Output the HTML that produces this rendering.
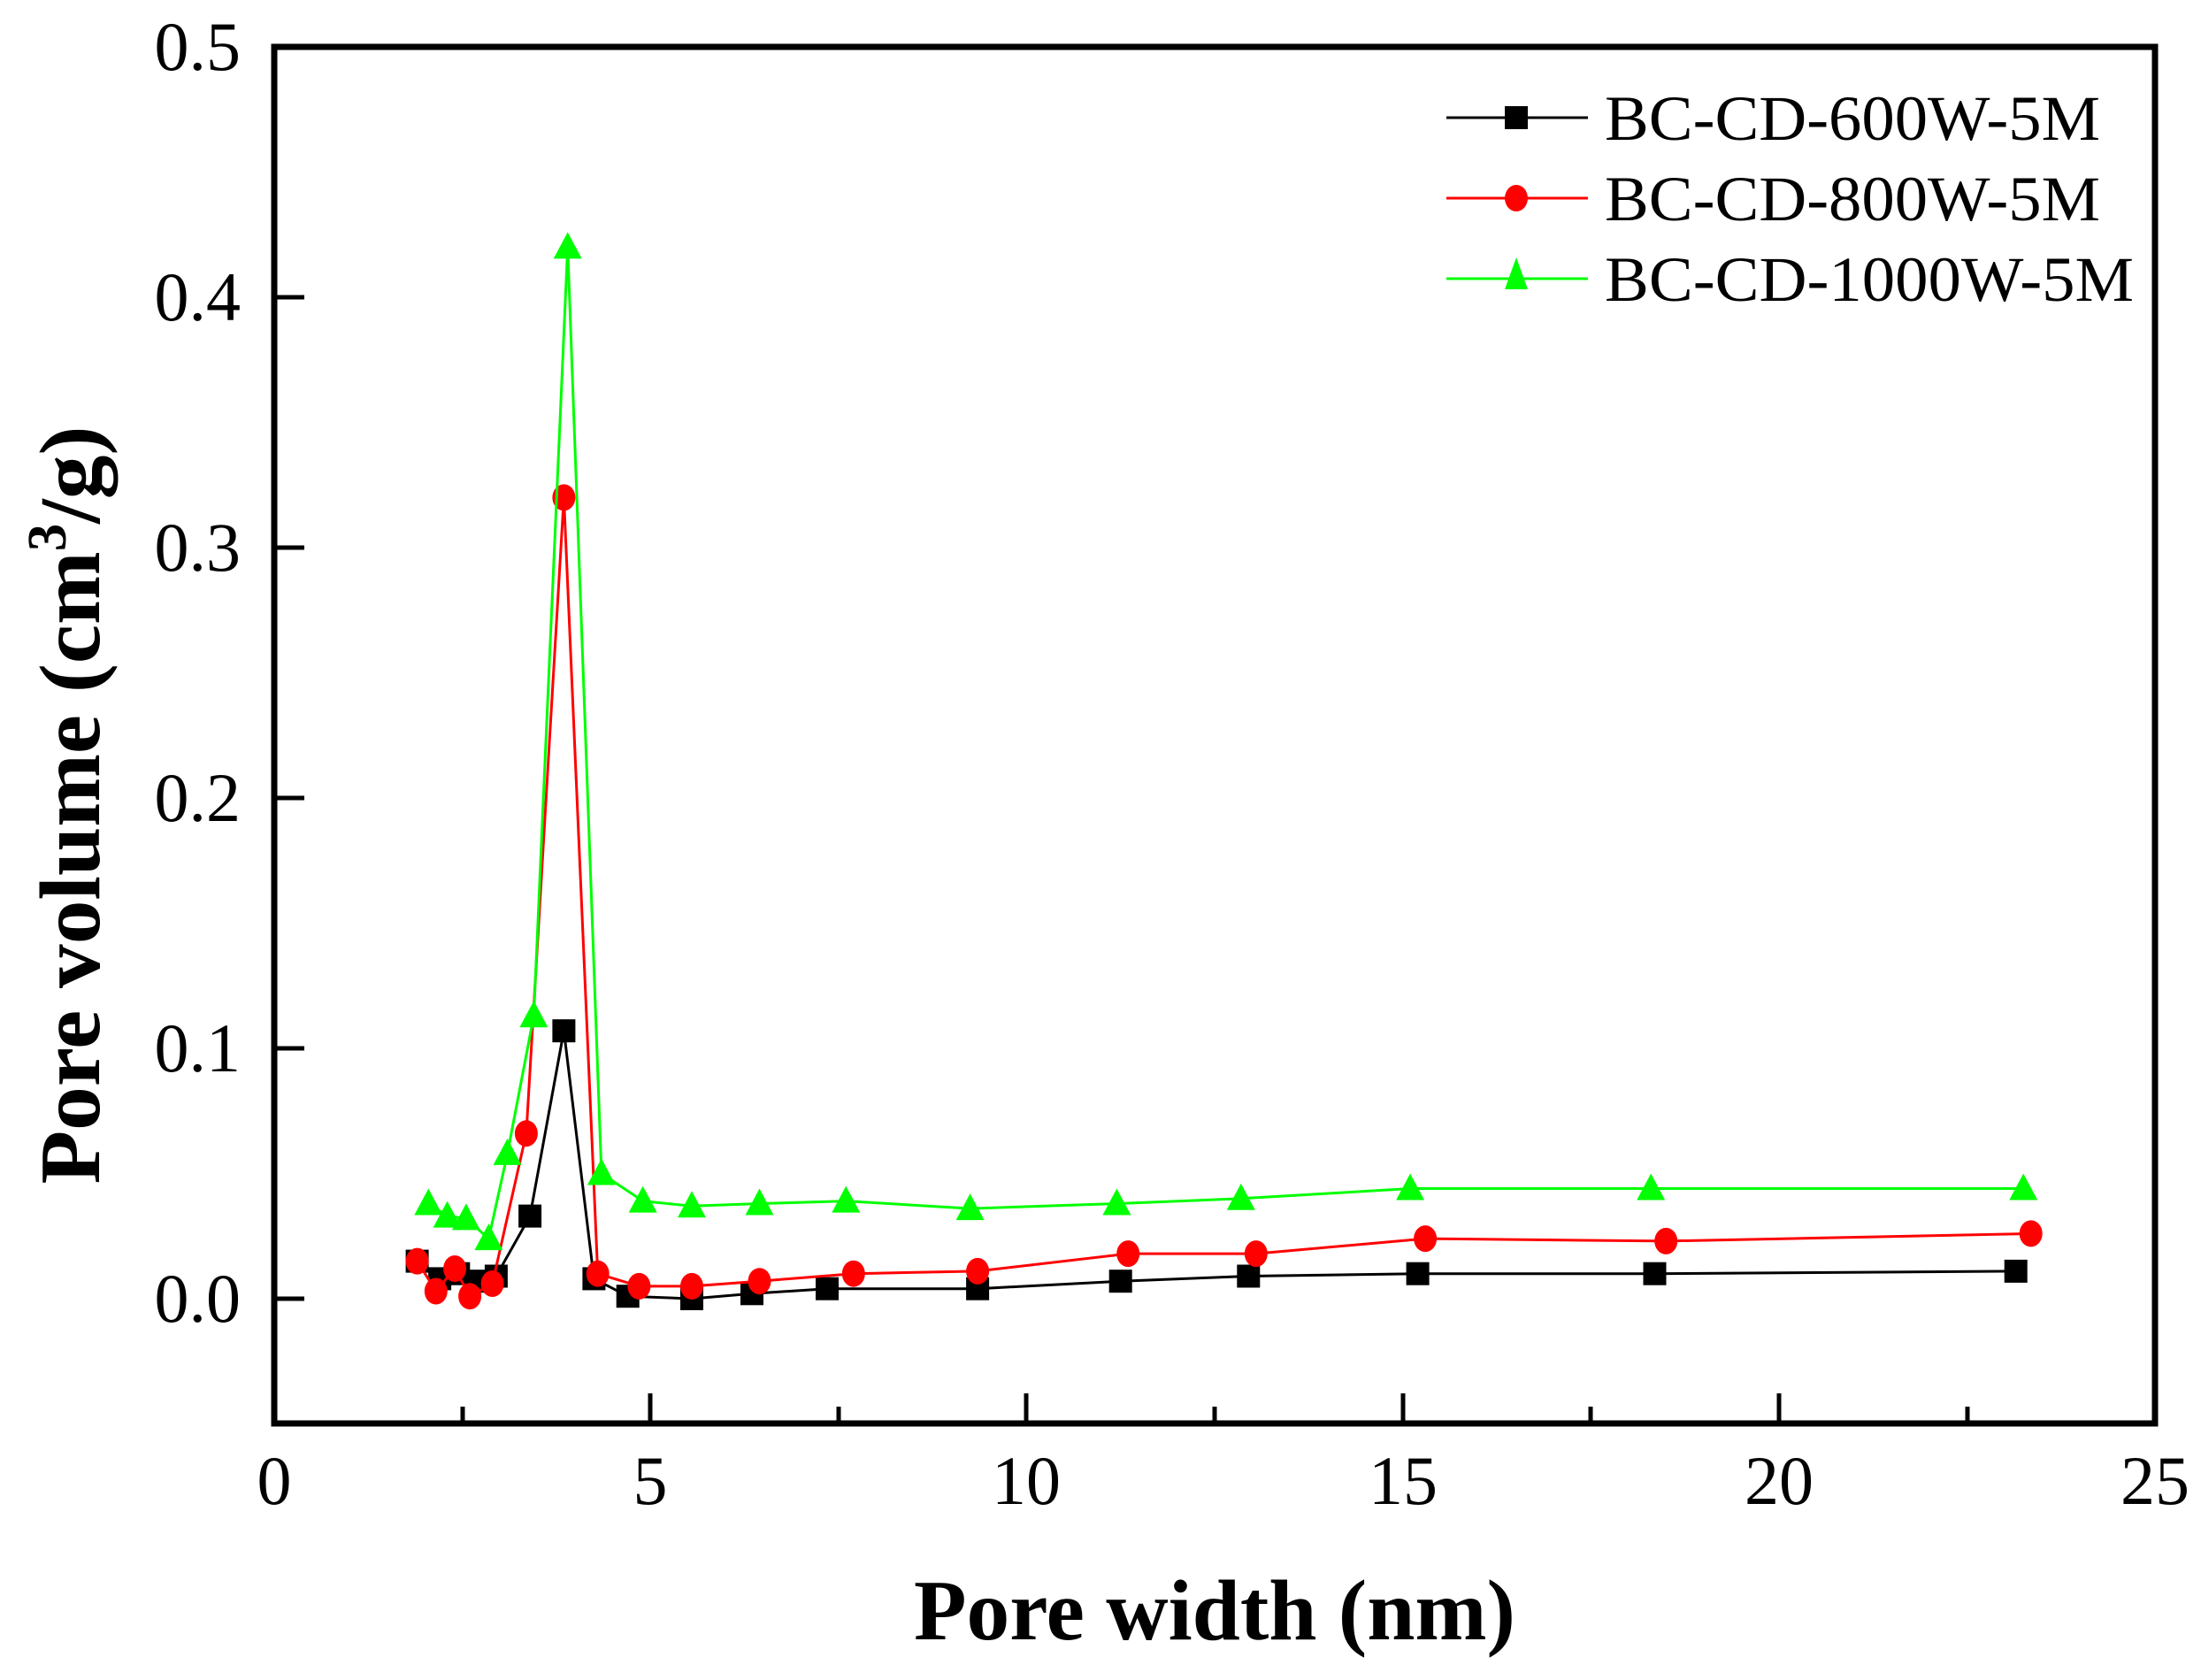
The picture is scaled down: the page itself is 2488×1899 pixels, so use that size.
<!DOCTYPE html>
<html><head><meta charset="utf-8"><style>html,body{margin:0;padding:0;background:#fff}svg{display:block}</style></head>
<body>
<svg xmlns="http://www.w3.org/2000/svg" width="2488" height="1899" viewBox="0 0 2488 1899">
<defs>
<marker id="ms" markerUnits="userSpaceOnUse" markerWidth="30" markerHeight="30" refX="15" refY="15" orient="0" overflow="visible"><rect x="2" y="2" width="26" height="26" fill="#000"/></marker>
<marker id="mc" markerUnits="userSpaceOnUse" markerWidth="30" markerHeight="34" refX="15" refY="17" orient="0" overflow="visible"><ellipse cx="15" cy="17" rx="13" ry="15" fill="#f00"/></marker>
<marker id="mt" markerUnits="userSpaceOnUse" markerWidth="34" markerHeight="34" refX="17" refY="19" orient="0" overflow="visible"><polygon points="17,2 1,32 33,32" fill="#0f0"/></marker>
</defs>
<rect width="2488" height="1899" fill="#fff"/>
<polyline fill="none" stroke="#000" stroke-width="3" marker-start="url(#ms)" marker-mid="url(#ms)" marker-end="url(#ms)" points="471.6,1425.6 497.1,1445.4 518.3,1439.7 539.6,1448.2 560.9,1442.5 599.1,1374.6 637.4,1165.2 671.4,1445.4 709.7,1465.2 782,1468 850,1462.3 935,1456.7 1105.1,1456.7 1266.7,1448.2 1411.3,1442.5 1602.6,1439.7 1870.5,1439.7 2278.7,1436.9"/>
<polyline fill="none" stroke="#f00" stroke-width="3" marker-start="url(#mc)" marker-mid="url(#mc)" marker-end="url(#mc)" points="471.6,1425.6 492.8,1459.5 514.1,1434 531.1,1465.2 556.6,1451 594.9,1281.2 637.4,562.4 675.7,1439.7 722.4,1453.9 782,1453.9 858.5,1448.2 964.8,1439.7 1105.1,1436.9 1275.2,1417.1 1419.8,1417.1 1611.1,1400.1 1883.2,1402.9 2295.7,1394.4"/>
<polyline fill="none" stroke="#0f0" stroke-width="3" marker-start="url(#mt)" marker-mid="url(#mt)" marker-end="url(#mt)" points="484.3,1360.5 505.6,1374.6 526.9,1377.4 552.4,1400.1 573.6,1303.9 603.4,1148.2 641.7,279.4 679.9,1326.5 726.7,1357.6 782,1363.3 858.5,1360.5 956.3,1357.6 1096.6,1366.1 1262.4,1360.5 1402.8,1354.8 1594.1,1343.5 1866.2,1343.5 2287.2,1343.5"/>
<rect x="310" y="53" width="2126" height="1556" fill="none" stroke="#000" stroke-width="7"/>
<g stroke="#000" stroke-width="5">
<line x1="735" y1="1609" x2="735" y2="1575"/><line x1="1160" y1="1609" x2="1160" y2="1575"/><line x1="1586" y1="1609" x2="1586" y2="1575"/><line x1="2011" y1="1609" x2="2011" y2="1575"/>
<line x1="523" y1="1609" x2="523" y2="1590"/><line x1="948" y1="1609" x2="948" y2="1590"/><line x1="1373" y1="1609" x2="1373" y2="1590"/><line x1="1798" y1="1609" x2="1798" y2="1590"/><line x1="2224" y1="1609" x2="2224" y2="1590"/>
<line x1="310" y1="1468" x2="344" y2="1468"/><line x1="310" y1="1185" x2="344" y2="1185"/><line x1="310" y1="902" x2="344" y2="902"/><line x1="310" y1="619" x2="344" y2="619"/><line x1="310" y1="336" x2="344" y2="336"/>
</g>
<g font-family="Liberation Serif, serif" font-size="78" fill="#000">
<g text-anchor="end"><text x="272" y="1494">0.0</text><text x="272" y="1211">0.1</text><text x="272" y="928">0.2</text><text x="272" y="645">0.3</text><text x="272" y="362">0.4</text><text x="272" y="79">0.5</text></g>
<g text-anchor="middle"><text x="310" y="1700">0</text><text x="735" y="1700">5</text><text x="1160" y="1700">10</text><text x="1586" y="1700">15</text><text x="2011" y="1700">20</text><text x="2436" y="1700">25</text></g>
</g>
<text x="1373" y="1853" text-anchor="middle" font-family="Liberation Serif, serif" font-weight="bold" font-size="98" textLength="680" lengthAdjust="spacingAndGlyphs">Pore width (nm)</text>
<text transform="translate(112,910) rotate(-90)" text-anchor="middle" font-family="Liberation Serif, serif" font-weight="bold" font-size="98" textLength="857" lengthAdjust="spacingAndGlyphs">Pore volume (cm<tspan dy="-38" font-size="62">3</tspan><tspan dy="38">/g)</tspan></text>
<g font-family="Liberation Serif, serif" font-size="72">
<line x1="1635" y1="133" x2="1795" y2="133" stroke="#000" stroke-width="3"/><rect x="1701" y="120" width="26" height="26" fill="#000"/>
<text x="1814" y="158" textLength="560" lengthAdjust="spacingAndGlyphs">BC-CD-600W-5M</text>
<line x1="1635" y1="224" x2="1795" y2="224" stroke="#f00" stroke-width="3"/><ellipse cx="1714" cy="224" rx="13" ry="15" fill="#f00"/>
<text x="1814" y="249" textLength="560" lengthAdjust="spacingAndGlyphs">BC-CD-800W-5M</text>
<line x1="1635" y1="315" x2="1795" y2="315" stroke="#0f0" stroke-width="3"/><polygon points="1714,291 1701,327 1727,327" fill="#0f0"/>
<text x="1814" y="340" textLength="598" lengthAdjust="spacingAndGlyphs">BC-CD-1000W-5M</text>
</g>
</svg>
</body></html>
